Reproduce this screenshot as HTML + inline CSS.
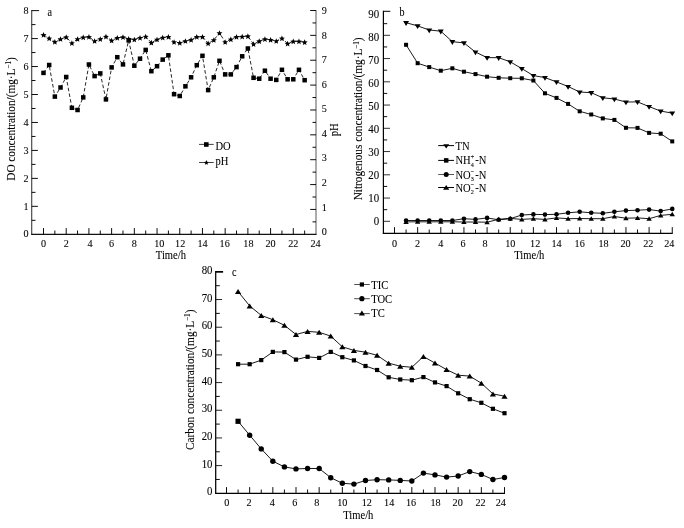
<!DOCTYPE html>
<html><head><meta charset="utf-8"><title>Figure</title>
<style>
html,body{margin:0;padding:0;background:#fff;}
body{width:684px;height:528px;overflow:hidden;font-family:"Liberation Serif",serif;}
#wrap{will-change:transform;width:684px;height:528px;}
svg{display:block;}
svg text{font-family:"Liberation Serif",serif;fill:#000;stroke:#000;stroke-width:0.09px;}
</style></head><body>
<div id="wrap">
<svg width="684" height="528" viewBox="0 0 684 528">
<line x1="31.70" y1="9.90" x2="31.70" y2="234.80" stroke="#444" stroke-width="1.15"/>
<line x1="316.00" y1="10.00" x2="316.00" y2="234.80" stroke="#666" stroke-width="1.1"/>
<line x1="31.20" y1="234.30" x2="316.50" y2="234.30" stroke="#111" stroke-width="1.15"/>
<text transform="translate(28.50,236.60) scale(0.9,1)" font-size="11.3" text-anchor="end">0</text>
<line x1="31.70" y1="220.32" x2="35.50" y2="220.32" stroke="#000" stroke-width="0.95"/>
<line x1="31.70" y1="206.34" x2="37.90" y2="206.34" stroke="#000" stroke-width="0.95"/>
<text transform="translate(28.50,210.14) scale(0.9,1)" font-size="11.3" text-anchor="end">1</text>
<line x1="31.70" y1="192.36" x2="35.50" y2="192.36" stroke="#000" stroke-width="0.95"/>
<line x1="31.70" y1="178.38" x2="37.90" y2="178.38" stroke="#000" stroke-width="0.95"/>
<text transform="translate(28.50,182.18) scale(0.9,1)" font-size="11.3" text-anchor="end">2</text>
<line x1="31.70" y1="164.40" x2="35.50" y2="164.40" stroke="#000" stroke-width="0.95"/>
<line x1="31.70" y1="150.42" x2="37.90" y2="150.42" stroke="#000" stroke-width="0.95"/>
<text transform="translate(28.50,154.22) scale(0.9,1)" font-size="11.3" text-anchor="end">3</text>
<line x1="31.70" y1="136.44" x2="35.50" y2="136.44" stroke="#000" stroke-width="0.95"/>
<line x1="31.70" y1="122.46" x2="37.90" y2="122.46" stroke="#000" stroke-width="0.95"/>
<text transform="translate(28.50,126.26) scale(0.9,1)" font-size="11.3" text-anchor="end">4</text>
<line x1="31.70" y1="108.48" x2="35.50" y2="108.48" stroke="#000" stroke-width="0.95"/>
<line x1="31.70" y1="94.50" x2="37.90" y2="94.50" stroke="#000" stroke-width="0.95"/>
<text transform="translate(28.50,98.30) scale(0.9,1)" font-size="11.3" text-anchor="end">5</text>
<line x1="31.70" y1="80.52" x2="35.50" y2="80.52" stroke="#000" stroke-width="0.95"/>
<line x1="31.70" y1="66.54" x2="37.90" y2="66.54" stroke="#000" stroke-width="0.95"/>
<text transform="translate(28.50,70.34) scale(0.9,1)" font-size="11.3" text-anchor="end">6</text>
<line x1="31.70" y1="52.56" x2="35.50" y2="52.56" stroke="#000" stroke-width="0.95"/>
<line x1="31.70" y1="38.58" x2="37.90" y2="38.58" stroke="#000" stroke-width="0.95"/>
<text transform="translate(28.50,42.38) scale(0.9,1)" font-size="11.3" text-anchor="end">7</text>
<line x1="31.70" y1="24.60" x2="35.50" y2="24.60" stroke="#000" stroke-width="0.95"/>
<line x1="31.70" y1="10.62" x2="39.10" y2="10.62" stroke="#000" stroke-width="0.95"/>
<text transform="translate(28.50,14.42) scale(0.9,1)" font-size="11.3" text-anchor="end">8</text>
<text transform="translate(321.80,235.05) scale(0.9,1)" font-size="11.3" text-anchor="start">0</text>
<line x1="316.00" y1="221.87" x2="312.50" y2="221.87" stroke="#000" stroke-width="0.95"/>
<line x1="316.00" y1="209.43" x2="310.20" y2="209.43" stroke="#000" stroke-width="0.95"/>
<text transform="translate(321.80,210.52) scale(0.9,1)" font-size="11.3" text-anchor="start">1</text>
<line x1="316.00" y1="197.00" x2="312.50" y2="197.00" stroke="#000" stroke-width="0.95"/>
<line x1="316.00" y1="184.57" x2="310.20" y2="184.57" stroke="#000" stroke-width="0.95"/>
<text transform="translate(321.80,185.99) scale(0.9,1)" font-size="11.3" text-anchor="start">2</text>
<line x1="316.00" y1="172.13" x2="312.50" y2="172.13" stroke="#000" stroke-width="0.95"/>
<line x1="316.00" y1="159.70" x2="310.20" y2="159.70" stroke="#000" stroke-width="0.95"/>
<text transform="translate(321.80,161.46) scale(0.9,1)" font-size="11.3" text-anchor="start">3</text>
<line x1="316.00" y1="147.27" x2="312.50" y2="147.27" stroke="#000" stroke-width="0.95"/>
<line x1="316.00" y1="134.83" x2="310.20" y2="134.83" stroke="#000" stroke-width="0.95"/>
<text transform="translate(321.80,136.93) scale(0.9,1)" font-size="11.3" text-anchor="start">4</text>
<line x1="316.00" y1="122.40" x2="312.50" y2="122.40" stroke="#000" stroke-width="0.95"/>
<line x1="316.00" y1="109.97" x2="310.20" y2="109.97" stroke="#000" stroke-width="0.95"/>
<text transform="translate(321.80,112.40) scale(0.9,1)" font-size="11.3" text-anchor="start">5</text>
<line x1="316.00" y1="97.53" x2="312.50" y2="97.53" stroke="#000" stroke-width="0.95"/>
<line x1="316.00" y1="85.10" x2="310.20" y2="85.10" stroke="#000" stroke-width="0.95"/>
<text transform="translate(321.80,87.87) scale(0.9,1)" font-size="11.3" text-anchor="start">6</text>
<line x1="316.00" y1="72.67" x2="312.50" y2="72.67" stroke="#000" stroke-width="0.95"/>
<line x1="316.00" y1="60.23" x2="310.20" y2="60.23" stroke="#000" stroke-width="0.95"/>
<text transform="translate(321.80,63.34) scale(0.9,1)" font-size="11.3" text-anchor="start">7</text>
<line x1="316.00" y1="47.80" x2="312.50" y2="47.80" stroke="#000" stroke-width="0.95"/>
<line x1="316.00" y1="35.37" x2="310.20" y2="35.37" stroke="#000" stroke-width="0.95"/>
<text transform="translate(321.80,38.81) scale(0.9,1)" font-size="11.3" text-anchor="start">8</text>
<line x1="316.00" y1="22.93" x2="312.50" y2="22.93" stroke="#000" stroke-width="0.95"/>
<line x1="316.00" y1="10.50" x2="310.20" y2="10.50" stroke="#000" stroke-width="0.95"/>
<text transform="translate(321.80,14.28) scale(0.9,1)" font-size="11.3" text-anchor="start">9</text>
<line x1="43.50" y1="234.30" x2="43.50" y2="228.10" stroke="#000" stroke-width="0.95"/>
<text transform="translate(43.50,246.90) scale(0.9,1)" font-size="11.3" text-anchor="middle">0</text>
<line x1="54.85" y1="234.30" x2="54.85" y2="230.50" stroke="#000" stroke-width="0.95"/>
<line x1="66.21" y1="234.30" x2="66.21" y2="228.10" stroke="#000" stroke-width="0.95"/>
<text transform="translate(66.21,246.90) scale(0.9,1)" font-size="11.3" text-anchor="middle">2</text>
<line x1="77.56" y1="234.30" x2="77.56" y2="230.50" stroke="#000" stroke-width="0.95"/>
<line x1="88.92" y1="234.30" x2="88.92" y2="228.10" stroke="#000" stroke-width="0.95"/>
<text transform="translate(89.92,246.90) scale(0.9,1)" font-size="11.3" text-anchor="middle">4</text>
<line x1="100.27" y1="234.30" x2="100.27" y2="230.50" stroke="#000" stroke-width="0.95"/>
<line x1="111.62" y1="234.30" x2="111.62" y2="228.10" stroke="#000" stroke-width="0.95"/>
<text transform="translate(111.62,246.90) scale(0.9,1)" font-size="11.3" text-anchor="middle">6</text>
<line x1="122.98" y1="234.30" x2="122.98" y2="230.50" stroke="#000" stroke-width="0.95"/>
<line x1="134.33" y1="234.30" x2="134.33" y2="228.10" stroke="#000" stroke-width="0.95"/>
<text transform="translate(134.33,246.90) scale(0.9,1)" font-size="11.3" text-anchor="middle">8</text>
<line x1="145.69" y1="234.30" x2="145.69" y2="230.50" stroke="#000" stroke-width="0.95"/>
<line x1="157.04" y1="234.30" x2="157.04" y2="228.10" stroke="#000" stroke-width="0.95"/>
<text transform="translate(159.34,246.90) scale(0.9,1)" font-size="11.3" text-anchor="middle">10</text>
<line x1="168.40" y1="234.30" x2="168.40" y2="230.50" stroke="#000" stroke-width="0.95"/>
<line x1="179.75" y1="234.30" x2="179.75" y2="228.10" stroke="#000" stroke-width="0.95"/>
<text transform="translate(180.15,246.90) scale(0.9,1)" font-size="11.3" text-anchor="middle">12</text>
<line x1="191.10" y1="234.30" x2="191.10" y2="230.50" stroke="#000" stroke-width="0.95"/>
<line x1="202.46" y1="234.30" x2="202.46" y2="228.10" stroke="#000" stroke-width="0.95"/>
<text transform="translate(202.46,246.90) scale(0.9,1)" font-size="11.3" text-anchor="middle">14</text>
<line x1="213.81" y1="234.30" x2="213.81" y2="230.50" stroke="#000" stroke-width="0.95"/>
<line x1="225.17" y1="234.30" x2="225.17" y2="228.10" stroke="#000" stroke-width="0.95"/>
<text transform="translate(224.67,246.90) scale(0.9,1)" font-size="11.3" text-anchor="middle">16</text>
<line x1="236.52" y1="234.30" x2="236.52" y2="230.50" stroke="#000" stroke-width="0.95"/>
<line x1="247.88" y1="234.30" x2="247.88" y2="228.10" stroke="#000" stroke-width="0.95"/>
<text transform="translate(248.38,246.90) scale(0.9,1)" font-size="11.3" text-anchor="middle">18</text>
<line x1="259.23" y1="234.30" x2="259.23" y2="230.50" stroke="#000" stroke-width="0.95"/>
<line x1="270.58" y1="234.30" x2="270.58" y2="228.10" stroke="#000" stroke-width="0.95"/>
<text transform="translate(270.58,246.90) scale(0.9,1)" font-size="11.3" text-anchor="middle">20</text>
<line x1="281.94" y1="234.30" x2="281.94" y2="230.50" stroke="#000" stroke-width="0.95"/>
<line x1="293.29" y1="234.30" x2="293.29" y2="228.10" stroke="#000" stroke-width="0.95"/>
<text transform="translate(293.29,246.90) scale(0.9,1)" font-size="11.3" text-anchor="middle">22</text>
<line x1="304.65" y1="234.30" x2="304.65" y2="230.50" stroke="#000" stroke-width="0.95"/>
<text transform="translate(315.50,246.90) scale(0.9,1)" font-size="11.3" text-anchor="middle">24</text>
<text transform="translate(170.90,258.80) scale(0.88,1)" font-size="12" text-anchor="middle">Time/h</text>
<text transform="translate(47.60,16.00) scale(0.88,1)" font-size="11.5" text-anchor="start">a</text>
<text transform="translate(14.80,119.00) rotate(-90) scale(0.94,1)" font-size="12" text-anchor="middle">DO concentration/(mg·L<tspan dy="-3.6" font-size="7.5">−1</tspan><tspan dy="3.6">)</tspan></text>
<text transform="translate(337.80,129.80) rotate(-90) scale(0.88,1)" font-size="12" text-anchor="middle">pH</text>
<polyline points="43.50,34.90 49.18,38.30 54.85,41.90 60.53,39.00 66.21,37.10 71.89,43.10 77.56,39.00 83.24,37.30 88.92,36.90 94.59,41.00 100.27,39.10 105.95,36.60 111.62,40.50 117.30,37.90 122.98,37.10 128.66,38.80 134.33,39.50 140.01,37.80 145.69,36.60 151.36,42.70 157.04,39.50 162.72,37.60 168.40,36.90 174.07,42.00 179.75,42.90 185.43,41.00 191.10,39.80 196.78,36.90 202.46,36.80 208.14,43.40 213.81,40.00 219.49,33.00 225.17,42.00 230.84,39.30 236.52,36.80 242.20,36.60 247.88,36.20 253.55,44.10 259.23,41.20 264.91,39.10 270.58,39.80 276.26,41.00 281.94,38.30 287.61,43.60 293.29,41.40 298.97,41.40 304.65,42.20" fill="none" stroke="#000" stroke-width="0.85" stroke-dasharray="3.4 2.0"/>
<polyline points="43.50,72.90 49.18,65.00 54.85,96.60 60.53,87.50 66.21,77.00 71.89,107.80 77.56,110.00 83.24,97.40 88.92,64.50 94.59,76.10 100.27,73.40 105.95,99.40 111.62,67.40 117.30,57.20 122.98,64.40 128.66,40.40 134.33,65.70 140.01,58.70 145.69,49.90 151.36,71.20 157.04,66.20 162.72,59.60 168.40,55.30 174.07,94.20 179.75,96.00 185.43,86.30 191.10,77.30 196.78,65.20 202.46,55.80 208.14,90.10 213.81,77.30 219.49,60.80 225.17,74.40 230.84,74.40 236.52,67.10 242.20,56.30 247.88,48.50 253.55,77.80 259.23,78.70 264.91,70.70 270.58,78.70 276.26,79.90 281.94,69.80 287.61,79.30 293.29,79.30 298.97,69.80 304.65,80.20" fill="none" stroke="#000" stroke-width="0.85" stroke-dasharray="3.6 2.2"/>
<polygon points="43.50,32.05 44.32,34.07 46.50,34.23 44.83,35.63 45.35,37.75 43.50,36.60 41.65,37.75 42.17,35.63 40.50,34.23 42.68,34.07" fill="#000"/>
<polygon points="49.18,35.45 50.00,37.47 52.17,37.63 50.51,39.03 51.03,41.15 49.18,40.00 47.33,41.15 47.85,39.03 46.18,37.63 48.35,37.47" fill="#000"/>
<polygon points="54.85,39.05 55.68,41.07 57.85,41.23 56.19,42.63 56.71,44.75 54.85,43.60 53.00,44.75 53.52,42.63 51.86,41.23 54.03,41.07" fill="#000"/>
<polygon points="60.53,36.15 61.35,38.17 63.53,38.33 61.86,39.73 62.38,41.85 60.53,40.70 58.68,41.85 59.20,39.73 57.54,38.33 59.71,38.17" fill="#000"/>
<polygon points="66.21,34.25 67.03,36.27 69.20,36.43 67.54,37.83 68.06,39.95 66.21,38.80 64.36,39.95 64.88,37.83 63.21,36.43 65.39,36.27" fill="#000"/>
<polygon points="71.89,40.25 72.71,42.27 74.88,42.43 73.22,43.83 73.74,45.95 71.89,44.80 70.03,45.95 70.55,43.83 68.89,42.43 71.06,42.27" fill="#000"/>
<polygon points="77.56,36.15 78.39,38.17 80.56,38.33 78.89,39.73 79.41,41.85 77.56,40.70 75.71,41.85 76.23,39.73 74.57,38.33 76.74,38.17" fill="#000"/>
<polygon points="83.24,34.45 84.06,36.47 86.24,36.63 84.57,38.03 85.09,40.15 83.24,39.00 81.39,40.15 81.91,38.03 80.24,36.63 82.42,36.47" fill="#000"/>
<polygon points="88.92,34.05 89.74,36.07 91.91,36.23 90.25,37.63 90.77,39.75 88.92,38.60 87.07,39.75 87.59,37.63 85.92,36.23 88.09,36.07" fill="#000"/>
<polygon points="94.59,38.15 95.42,40.17 97.59,40.33 95.93,41.73 96.45,43.85 94.59,42.70 92.74,43.85 93.26,41.73 91.60,40.33 93.77,40.17" fill="#000"/>
<polygon points="100.27,36.25 101.09,38.27 103.27,38.43 101.60,39.83 102.12,41.95 100.27,40.80 98.42,41.95 98.94,39.83 97.28,38.43 99.45,38.27" fill="#000"/>
<polygon points="105.95,33.75 106.77,35.77 108.94,35.93 107.28,37.33 107.80,39.45 105.95,38.30 104.10,39.45 104.62,37.33 102.95,35.93 105.13,35.77" fill="#000"/>
<polygon points="111.62,37.65 112.45,39.67 114.62,39.83 112.96,41.23 113.48,43.35 111.62,42.20 109.77,43.35 110.29,41.23 108.63,39.83 110.80,39.67" fill="#000"/>
<polygon points="117.30,35.05 118.12,37.07 120.30,37.23 118.63,38.63 119.15,40.75 117.30,39.60 115.45,40.75 115.97,38.63 114.31,37.23 116.48,37.07" fill="#000"/>
<polygon points="122.98,34.25 123.80,36.27 125.97,36.43 124.31,37.83 124.83,39.95 122.98,38.80 121.13,39.95 121.65,37.83 119.98,36.43 122.16,36.27" fill="#000"/>
<polygon points="128.66,35.95 129.48,37.97 131.65,38.13 129.99,39.53 130.51,41.65 128.66,40.50 126.80,41.65 127.32,39.53 125.66,38.13 127.83,37.97" fill="#000"/>
<polygon points="134.33,36.65 135.16,38.67 137.33,38.83 135.66,40.23 136.18,42.35 134.33,41.20 132.48,42.35 133.00,40.23 131.34,38.83 133.51,38.67" fill="#000"/>
<polygon points="140.01,34.95 140.83,36.97 143.01,37.13 141.34,38.53 141.86,40.65 140.01,39.50 138.16,40.65 138.68,38.53 137.01,37.13 139.19,36.97" fill="#000"/>
<polygon points="145.69,33.75 146.51,35.77 148.68,35.93 147.02,37.33 147.54,39.45 145.69,38.30 143.84,39.45 144.36,37.33 142.69,35.93 144.86,35.77" fill="#000"/>
<polygon points="151.36,39.85 152.19,41.87 154.36,42.03 152.70,43.43 153.22,45.55 151.36,44.40 149.51,45.55 150.03,43.43 148.37,42.03 150.54,41.87" fill="#000"/>
<polygon points="157.04,36.65 157.86,38.67 160.04,38.83 158.37,40.23 158.89,42.35 157.04,41.20 155.19,42.35 155.71,40.23 154.05,38.83 156.22,38.67" fill="#000"/>
<polygon points="162.72,34.75 163.54,36.77 165.71,36.93 164.05,38.33 164.57,40.45 162.72,39.30 160.87,40.45 161.39,38.33 159.72,36.93 161.90,36.77" fill="#000"/>
<polygon points="168.40,34.05 169.22,36.07 171.39,36.23 169.73,37.63 170.25,39.75 168.40,38.60 166.54,39.75 167.06,37.63 165.40,36.23 167.57,36.07" fill="#000"/>
<polygon points="174.07,39.15 174.90,41.17 177.07,41.33 175.40,42.73 175.92,44.85 174.07,43.70 172.22,44.85 172.74,42.73 171.08,41.33 173.25,41.17" fill="#000"/>
<polygon points="179.75,40.05 180.57,42.07 182.75,42.23 181.08,43.63 181.60,45.75 179.75,44.60 177.90,45.75 178.42,43.63 176.75,42.23 178.93,42.07" fill="#000"/>
<polygon points="185.43,38.15 186.25,40.17 188.42,40.33 186.76,41.73 187.28,43.85 185.43,42.70 183.58,43.85 184.10,41.73 182.43,40.33 184.60,40.17" fill="#000"/>
<polygon points="191.10,36.95 191.93,38.97 194.10,39.13 192.44,40.53 192.96,42.65 191.10,41.50 189.25,42.65 189.77,40.53 188.11,39.13 190.28,38.97" fill="#000"/>
<polygon points="196.78,34.05 197.60,36.07 199.78,36.23 198.11,37.63 198.63,39.75 196.78,38.60 194.93,39.75 195.45,37.63 193.79,36.23 195.96,36.07" fill="#000"/>
<polygon points="202.46,33.95 203.28,35.97 205.45,36.13 203.79,37.53 204.31,39.65 202.46,38.50 200.61,39.65 201.13,37.53 199.46,36.13 201.64,35.97" fill="#000"/>
<polygon points="208.14,40.55 208.96,42.57 211.13,42.73 209.47,44.13 209.99,46.25 208.14,45.10 206.28,46.25 206.80,44.13 205.14,42.73 207.31,42.57" fill="#000"/>
<polygon points="213.81,37.15 214.64,39.17 216.81,39.33 215.14,40.73 215.66,42.85 213.81,41.70 211.96,42.85 212.48,40.73 210.82,39.33 212.99,39.17" fill="#000"/>
<polygon points="219.49,30.15 220.31,32.17 222.49,32.33 220.82,33.73 221.34,35.85 219.49,34.70 217.64,35.85 218.16,33.73 216.49,32.33 218.67,32.17" fill="#000"/>
<polygon points="225.17,39.15 225.99,41.17 228.16,41.33 226.50,42.73 227.02,44.85 225.17,43.70 223.32,44.85 223.84,42.73 222.17,41.33 224.34,41.17" fill="#000"/>
<polygon points="230.84,36.45 231.67,38.47 233.84,38.63 232.18,40.03 232.70,42.15 230.84,41.00 228.99,42.15 229.51,40.03 227.85,38.63 230.02,38.47" fill="#000"/>
<polygon points="236.52,33.95 237.34,35.97 239.52,36.13 237.85,37.53 238.37,39.65 236.52,38.50 234.67,39.65 235.19,37.53 233.53,36.13 235.70,35.97" fill="#000"/>
<polygon points="242.20,33.75 243.02,35.77 245.19,35.93 243.53,37.33 244.05,39.45 242.20,38.30 240.35,39.45 240.87,37.33 239.20,35.93 241.38,35.77" fill="#000"/>
<polygon points="247.88,33.35 248.70,35.37 250.87,35.53 249.21,36.93 249.73,39.05 247.88,37.90 246.02,39.05 246.54,36.93 244.88,35.53 247.05,35.37" fill="#000"/>
<polygon points="253.55,41.25 254.37,43.27 256.55,43.43 254.88,44.83 255.40,46.95 253.55,45.80 251.70,46.95 252.22,44.83 250.56,43.43 252.73,43.27" fill="#000"/>
<polygon points="259.23,38.35 260.05,40.37 262.22,40.53 260.56,41.93 261.08,44.05 259.23,42.90 257.38,44.05 257.90,41.93 256.23,40.53 258.41,40.37" fill="#000"/>
<polygon points="264.91,36.25 265.73,38.27 267.90,38.43 266.24,39.83 266.76,41.95 264.91,40.80 263.05,41.95 263.57,39.83 261.91,38.43 264.08,38.27" fill="#000"/>
<polygon points="270.58,36.95 271.41,38.97 273.58,39.13 271.91,40.53 272.43,42.65 270.58,41.50 268.73,42.65 269.25,40.53 267.59,39.13 269.76,38.97" fill="#000"/>
<polygon points="276.26,38.15 277.08,40.17 279.26,40.33 277.59,41.73 278.11,43.85 276.26,42.70 274.41,43.85 274.93,41.73 273.26,40.33 275.44,40.17" fill="#000"/>
<polygon points="281.94,35.45 282.76,37.47 284.93,37.63 283.27,39.03 283.79,41.15 281.94,40.00 280.09,41.15 280.61,39.03 278.94,37.63 281.11,37.47" fill="#000"/>
<polygon points="287.61,40.75 288.44,42.77 290.61,42.93 288.95,44.33 289.47,46.45 287.61,45.30 285.76,46.45 286.28,44.33 284.62,42.93 286.79,42.77" fill="#000"/>
<polygon points="293.29,38.55 294.11,40.57 296.29,40.73 294.62,42.13 295.14,44.25 293.29,43.10 291.44,44.25 291.96,42.13 290.30,40.73 292.47,40.57" fill="#000"/>
<polygon points="298.97,38.55 299.79,40.57 301.96,40.73 300.30,42.13 300.82,44.25 298.97,43.10 297.12,44.25 297.64,42.13 295.97,40.73 298.15,40.57" fill="#000"/>
<polygon points="304.65,39.35 305.47,41.37 307.64,41.53 305.98,42.93 306.50,45.05 304.65,43.90 302.79,45.05 303.31,42.93 301.65,41.53 303.82,41.37" fill="#000"/>
<rect x="41.25" y="70.65" width="4.5" height="4.5" fill="#000"/>
<rect x="46.93" y="62.75" width="4.5" height="4.5" fill="#000"/>
<rect x="52.60" y="94.35" width="4.5" height="4.5" fill="#000"/>
<rect x="58.28" y="85.25" width="4.5" height="4.5" fill="#000"/>
<rect x="63.96" y="74.75" width="4.5" height="4.5" fill="#000"/>
<rect x="69.64" y="105.55" width="4.5" height="4.5" fill="#000"/>
<rect x="75.31" y="107.75" width="4.5" height="4.5" fill="#000"/>
<rect x="80.99" y="95.15" width="4.5" height="4.5" fill="#000"/>
<rect x="86.67" y="62.25" width="4.5" height="4.5" fill="#000"/>
<rect x="92.34" y="73.85" width="4.5" height="4.5" fill="#000"/>
<rect x="98.02" y="71.15" width="4.5" height="4.5" fill="#000"/>
<rect x="103.70" y="97.15" width="4.5" height="4.5" fill="#000"/>
<rect x="109.38" y="65.15" width="4.5" height="4.5" fill="#000"/>
<rect x="115.05" y="54.95" width="4.5" height="4.5" fill="#000"/>
<rect x="120.73" y="62.15" width="4.5" height="4.5" fill="#000"/>
<rect x="126.41" y="38.15" width="4.5" height="4.5" fill="#000"/>
<rect x="132.08" y="63.45" width="4.5" height="4.5" fill="#000"/>
<rect x="137.76" y="56.45" width="4.5" height="4.5" fill="#000"/>
<rect x="143.44" y="47.65" width="4.5" height="4.5" fill="#000"/>
<rect x="149.11" y="68.95" width="4.5" height="4.5" fill="#000"/>
<rect x="154.79" y="63.95" width="4.5" height="4.5" fill="#000"/>
<rect x="160.47" y="57.35" width="4.5" height="4.5" fill="#000"/>
<rect x="166.15" y="53.05" width="4.5" height="4.5" fill="#000"/>
<rect x="171.82" y="91.95" width="4.5" height="4.5" fill="#000"/>
<rect x="177.50" y="93.75" width="4.5" height="4.5" fill="#000"/>
<rect x="183.18" y="84.05" width="4.5" height="4.5" fill="#000"/>
<rect x="188.85" y="75.05" width="4.5" height="4.5" fill="#000"/>
<rect x="194.53" y="62.95" width="4.5" height="4.5" fill="#000"/>
<rect x="200.21" y="53.55" width="4.5" height="4.5" fill="#000"/>
<rect x="205.89" y="87.85" width="4.5" height="4.5" fill="#000"/>
<rect x="211.56" y="75.05" width="4.5" height="4.5" fill="#000"/>
<rect x="217.24" y="58.55" width="4.5" height="4.5" fill="#000"/>
<rect x="222.92" y="72.15" width="4.5" height="4.5" fill="#000"/>
<rect x="228.59" y="72.15" width="4.5" height="4.5" fill="#000"/>
<rect x="234.27" y="64.85" width="4.5" height="4.5" fill="#000"/>
<rect x="239.95" y="54.05" width="4.5" height="4.5" fill="#000"/>
<rect x="245.62" y="46.25" width="4.5" height="4.5" fill="#000"/>
<rect x="251.30" y="75.55" width="4.5" height="4.5" fill="#000"/>
<rect x="256.98" y="76.45" width="4.5" height="4.5" fill="#000"/>
<rect x="262.66" y="68.45" width="4.5" height="4.5" fill="#000"/>
<rect x="268.33" y="76.45" width="4.5" height="4.5" fill="#000"/>
<rect x="274.01" y="77.65" width="4.5" height="4.5" fill="#000"/>
<rect x="279.69" y="67.55" width="4.5" height="4.5" fill="#000"/>
<rect x="285.36" y="77.05" width="4.5" height="4.5" fill="#000"/>
<rect x="291.04" y="77.05" width="4.5" height="4.5" fill="#000"/>
<rect x="296.72" y="67.55" width="4.5" height="4.5" fill="#000"/>
<rect x="302.40" y="77.95" width="4.5" height="4.5" fill="#000"/>
<line x1="199.00" y1="144.40" x2="213.70" y2="144.40" stroke="#111" stroke-width="0.8"/>
<rect x="204.00" y="142.20" width="4.6" height="4.6" fill="#000"/>
<text transform="translate(215.40,149.60) scale(0.88,1)" font-size="12" text-anchor="start">DO</text>
<line x1="199.00" y1="162.50" x2="213.70" y2="162.50" stroke="#111" stroke-width="0.8"/>
<polygon points="206.40,160.10 207.11,161.73 208.87,161.90 207.54,163.07 207.93,164.80 206.40,163.90 204.87,164.80 205.26,163.07 203.93,161.90 205.69,161.73" fill="#000"/>
<text transform="translate(215.40,164.80) scale(0.88,1)" font-size="12" text-anchor="start">pH</text>
<line x1="383.40" y1="10.80" x2="383.40" y2="233.80" stroke="#000" stroke-width="1.2"/>
<line x1="382.80" y1="233.30" x2="672.70" y2="233.30" stroke="#000" stroke-width="1.2"/>
<line x1="383.40" y1="221.30" x2="390.00" y2="221.30" stroke="#000" stroke-width="0.8"/>
<text transform="translate(379.20,224.80) scale(0.9400000000000001,1)" font-size="11.600000000000001" text-anchor="end">0</text>
<line x1="383.40" y1="209.68" x2="387.20" y2="209.68" stroke="#000" stroke-width="0.95"/>
<line x1="383.40" y1="198.05" x2="390.00" y2="198.05" stroke="#000" stroke-width="0.8"/>
<text transform="translate(379.20,201.80) scale(0.9400000000000001,1)" font-size="11.600000000000001" text-anchor="end">10</text>
<line x1="383.40" y1="186.43" x2="387.20" y2="186.43" stroke="#000" stroke-width="0.95"/>
<line x1="383.40" y1="174.80" x2="390.00" y2="174.80" stroke="#000" stroke-width="0.8"/>
<text transform="translate(379.20,178.80) scale(0.9400000000000001,1)" font-size="11.600000000000001" text-anchor="end">20</text>
<line x1="383.40" y1="163.18" x2="387.20" y2="163.18" stroke="#000" stroke-width="0.95"/>
<line x1="383.40" y1="151.55" x2="390.00" y2="151.55" stroke="#000" stroke-width="0.8"/>
<text transform="translate(379.20,155.80) scale(0.9400000000000001,1)" font-size="11.600000000000001" text-anchor="end">30</text>
<line x1="383.40" y1="139.93" x2="387.20" y2="139.93" stroke="#000" stroke-width="0.95"/>
<line x1="383.40" y1="128.30" x2="390.00" y2="128.30" stroke="#000" stroke-width="0.8"/>
<text transform="translate(379.20,132.80) scale(0.9400000000000001,1)" font-size="11.600000000000001" text-anchor="end">40</text>
<line x1="383.40" y1="116.67" x2="387.20" y2="116.67" stroke="#000" stroke-width="0.95"/>
<line x1="383.40" y1="105.05" x2="390.00" y2="105.05" stroke="#000" stroke-width="0.8"/>
<text transform="translate(379.20,109.80) scale(0.9400000000000001,1)" font-size="11.600000000000001" text-anchor="end">50</text>
<line x1="383.40" y1="93.42" x2="387.20" y2="93.42" stroke="#000" stroke-width="0.95"/>
<line x1="383.40" y1="81.80" x2="390.00" y2="81.80" stroke="#000" stroke-width="0.8"/>
<text transform="translate(379.20,86.80) scale(0.9400000000000001,1)" font-size="11.600000000000001" text-anchor="end">60</text>
<line x1="383.40" y1="70.18" x2="387.20" y2="70.18" stroke="#000" stroke-width="0.95"/>
<line x1="383.40" y1="58.55" x2="390.00" y2="58.55" stroke="#000" stroke-width="0.8"/>
<text transform="translate(379.20,63.80) scale(0.9400000000000001,1)" font-size="11.600000000000001" text-anchor="end">70</text>
<line x1="383.40" y1="46.93" x2="387.20" y2="46.93" stroke="#000" stroke-width="0.95"/>
<line x1="383.40" y1="35.30" x2="390.00" y2="35.30" stroke="#000" stroke-width="0.8"/>
<text transform="translate(379.20,40.80) scale(0.9400000000000001,1)" font-size="11.600000000000001" text-anchor="end">80</text>
<line x1="383.40" y1="23.67" x2="387.20" y2="23.67" stroke="#000" stroke-width="0.95"/>
<line x1="383.40" y1="11.30" x2="390.30" y2="11.30" stroke="#000" stroke-width="1.0"/>
<text transform="translate(379.20,17.80) scale(0.9400000000000001,1)" font-size="11.600000000000001" text-anchor="end">90</text>
<line x1="394.50" y1="233.30" x2="394.50" y2="227.10" stroke="#000" stroke-width="0.95"/>
<text transform="translate(394.50,246.50) scale(0.9,1)" font-size="11.3" text-anchor="middle">0</text>
<line x1="406.07" y1="233.30" x2="406.07" y2="229.50" stroke="#000" stroke-width="0.95"/>
<line x1="417.65" y1="233.30" x2="417.65" y2="227.10" stroke="#000" stroke-width="0.95"/>
<text transform="translate(417.65,246.50) scale(0.9,1)" font-size="11.3" text-anchor="middle">2</text>
<line x1="429.22" y1="233.30" x2="429.22" y2="229.50" stroke="#000" stroke-width="0.95"/>
<line x1="440.79" y1="233.30" x2="440.79" y2="227.10" stroke="#000" stroke-width="0.95"/>
<text transform="translate(440.79,246.50) scale(0.9,1)" font-size="11.3" text-anchor="middle">4</text>
<line x1="452.36" y1="233.30" x2="452.36" y2="229.50" stroke="#000" stroke-width="0.95"/>
<line x1="463.94" y1="233.30" x2="463.94" y2="227.10" stroke="#000" stroke-width="0.95"/>
<text transform="translate(463.04,246.50) scale(0.9,1)" font-size="11.3" text-anchor="middle">6</text>
<line x1="475.51" y1="233.30" x2="475.51" y2="229.50" stroke="#000" stroke-width="0.95"/>
<line x1="487.08" y1="233.30" x2="487.08" y2="227.10" stroke="#000" stroke-width="0.95"/>
<text transform="translate(485.08,246.50) scale(0.9,1)" font-size="11.3" text-anchor="middle">8</text>
<line x1="498.66" y1="233.30" x2="498.66" y2="229.50" stroke="#000" stroke-width="0.95"/>
<line x1="510.23" y1="233.30" x2="510.23" y2="227.10" stroke="#000" stroke-width="0.95"/>
<text transform="translate(510.23,246.50) scale(0.9,1)" font-size="11.3" text-anchor="middle">10</text>
<line x1="521.80" y1="233.30" x2="521.80" y2="229.50" stroke="#000" stroke-width="0.95"/>
<line x1="533.38" y1="233.30" x2="533.38" y2="227.10" stroke="#000" stroke-width="0.95"/>
<text transform="translate(535.12,246.50) scale(0.9,1)" font-size="11.3" text-anchor="middle">12</text>
<line x1="544.95" y1="233.30" x2="544.95" y2="229.50" stroke="#000" stroke-width="0.95"/>
<line x1="556.52" y1="233.30" x2="556.52" y2="227.10" stroke="#000" stroke-width="0.95"/>
<text transform="translate(556.52,246.50) scale(0.9,1)" font-size="11.3" text-anchor="middle">14</text>
<line x1="568.09" y1="233.30" x2="568.09" y2="229.50" stroke="#000" stroke-width="0.95"/>
<line x1="579.67" y1="233.30" x2="579.67" y2="227.10" stroke="#000" stroke-width="0.95"/>
<text transform="translate(579.67,246.50) scale(0.9,1)" font-size="11.3" text-anchor="middle">16</text>
<line x1="591.24" y1="233.30" x2="591.24" y2="229.50" stroke="#000" stroke-width="0.95"/>
<line x1="602.81" y1="233.30" x2="602.81" y2="227.10" stroke="#000" stroke-width="0.95"/>
<text transform="translate(603.56,246.50) scale(0.9,1)" font-size="11.3" text-anchor="middle">18</text>
<line x1="614.39" y1="233.30" x2="614.39" y2="229.50" stroke="#000" stroke-width="0.95"/>
<line x1="625.96" y1="233.30" x2="625.96" y2="227.10" stroke="#000" stroke-width="0.95"/>
<text transform="translate(625.46,246.50) scale(0.9,1)" font-size="11.3" text-anchor="middle">20</text>
<line x1="637.53" y1="233.30" x2="637.53" y2="229.50" stroke="#000" stroke-width="0.95"/>
<line x1="649.10" y1="233.30" x2="649.10" y2="227.10" stroke="#000" stroke-width="0.95"/>
<text transform="translate(648.35,246.50) scale(0.9,1)" font-size="11.3" text-anchor="middle">22</text>
<line x1="660.68" y1="233.30" x2="660.68" y2="229.50" stroke="#000" stroke-width="0.95"/>
<line x1="672.25" y1="233.30" x2="672.25" y2="227.10" stroke="#000" stroke-width="0.95"/>
<text transform="translate(669.25,246.50) scale(0.9,1)" font-size="11.3" text-anchor="middle">24</text>
<text transform="translate(529.30,259.00) scale(0.88,1)" font-size="12" text-anchor="middle">Time/h</text>
<text transform="translate(399.40,15.80) scale(0.88,1)" font-size="11.5" text-anchor="start">b</text>
<text transform="translate(362.20,118.90) rotate(-90) scale(0.94,1)" font-size="12" text-anchor="middle">Nitrogenous concentration/(mg·L<tspan dy="-3.6" font-size="7.5">−1</tspan><tspan dy="3.6">)</tspan></text>
<polyline points="406.07,22.70 417.65,25.90 429.22,30.00 440.79,31.20 452.36,41.70 463.94,42.90 475.51,52.10 487.08,57.60 498.66,57.70 510.23,61.80 521.80,68.60 533.38,75.60 544.95,77.60 556.52,81.90 568.09,86.50 579.67,92.00 591.24,92.70 602.81,97.80 614.39,99.00 625.96,102.00 637.53,101.90 649.10,106.60 660.68,111.10 672.25,113.10" fill="none" stroke="#000" stroke-width="0.9"/>
<polyline points="406.07,44.80 417.65,63.20 429.22,67.10 440.79,70.70 452.36,68.30 463.94,71.70 475.51,74.10 487.08,76.70 498.66,77.80 510.23,78.20 521.80,78.30 533.38,80.50 544.95,93.30 556.52,97.90 568.09,103.90 579.67,111.30 591.24,114.50 602.81,118.40 614.39,119.90 625.96,127.80 637.53,127.90 649.10,132.90 660.68,133.70 672.25,141.40" fill="none" stroke="#000" stroke-width="0.9"/>
<polyline points="406.07,220.50 417.65,220.50 429.22,220.50 440.79,220.50 452.36,220.50 463.94,218.70 475.51,219.40 487.08,217.90 498.66,219.80 510.23,218.70 521.80,215.00 533.38,214.40 544.95,214.60 556.52,214.30 568.09,212.80 579.67,211.80 591.24,212.80 602.81,213.30 614.39,211.80 625.96,210.60 637.53,210.20 649.10,209.60 660.68,211.10 672.25,208.90" fill="none" stroke="#000" stroke-width="0.9"/>
<polyline points="406.07,221.90 417.65,221.80 429.22,221.80 440.79,221.80 452.36,221.80 463.94,222.00 475.51,222.00 487.08,222.20 498.66,219.30 510.23,218.40 521.80,219.40 533.38,218.70 544.95,219.40 556.52,217.90 568.09,218.70 579.67,218.50 591.24,218.70 602.81,218.70 614.39,216.50 625.96,218.20 637.53,217.90 649.10,218.70 660.68,215.40 672.25,214.30" fill="none" stroke="#000" stroke-width="0.9"/>
<polygon points="403.12,21.10 409.02,21.10 406.07,25.90" fill="#000"/>
<polygon points="414.70,24.30 420.60,24.30 417.65,29.10" fill="#000"/>
<polygon points="426.27,28.40 432.17,28.40 429.22,33.20" fill="#000"/>
<polygon points="437.84,29.60 443.74,29.60 440.79,34.40" fill="#000"/>
<polygon points="449.41,40.10 455.31,40.10 452.36,44.90" fill="#000"/>
<polygon points="460.99,41.30 466.89,41.30 463.94,46.10" fill="#000"/>
<polygon points="472.56,50.50 478.46,50.50 475.51,55.30" fill="#000"/>
<polygon points="484.13,56.00 490.03,56.00 487.08,60.80" fill="#000"/>
<polygon points="495.71,56.10 501.61,56.10 498.66,60.90" fill="#000"/>
<polygon points="507.28,60.20 513.18,60.20 510.23,65.00" fill="#000"/>
<polygon points="518.85,67.00 524.75,67.00 521.80,71.80" fill="#000"/>
<polygon points="530.42,74.00 536.33,74.00 533.38,78.80" fill="#000"/>
<polygon points="542.00,76.00 547.90,76.00 544.95,80.80" fill="#000"/>
<polygon points="553.57,80.30 559.47,80.30 556.52,85.10" fill="#000"/>
<polygon points="565.14,84.90 571.04,84.90 568.09,89.70" fill="#000"/>
<polygon points="576.72,90.40 582.62,90.40 579.67,95.20" fill="#000"/>
<polygon points="588.29,91.10 594.19,91.10 591.24,95.90" fill="#000"/>
<polygon points="599.86,96.20 605.76,96.20 602.81,101.00" fill="#000"/>
<polygon points="611.44,97.40 617.34,97.40 614.39,102.20" fill="#000"/>
<polygon points="623.01,100.40 628.91,100.40 625.96,105.20" fill="#000"/>
<polygon points="634.58,100.30 640.48,100.30 637.53,105.10" fill="#000"/>
<polygon points="646.15,105.00 652.05,105.00 649.10,109.80" fill="#000"/>
<polygon points="657.73,109.50 663.63,109.50 660.68,114.30" fill="#000"/>
<polygon points="669.30,111.50 675.20,111.50 672.25,116.30" fill="#000"/>
<rect x="404.07" y="42.80" width="4.0" height="4.0" fill="#000"/>
<rect x="415.65" y="61.20" width="4.0" height="4.0" fill="#000"/>
<rect x="427.22" y="65.10" width="4.0" height="4.0" fill="#000"/>
<rect x="438.79" y="68.70" width="4.0" height="4.0" fill="#000"/>
<rect x="450.36" y="66.30" width="4.0" height="4.0" fill="#000"/>
<rect x="461.94" y="69.70" width="4.0" height="4.0" fill="#000"/>
<rect x="473.51" y="72.10" width="4.0" height="4.0" fill="#000"/>
<rect x="485.08" y="74.70" width="4.0" height="4.0" fill="#000"/>
<rect x="496.66" y="75.80" width="4.0" height="4.0" fill="#000"/>
<rect x="508.23" y="76.20" width="4.0" height="4.0" fill="#000"/>
<rect x="519.80" y="76.30" width="4.0" height="4.0" fill="#000"/>
<rect x="531.38" y="78.50" width="4.0" height="4.0" fill="#000"/>
<rect x="542.95" y="91.30" width="4.0" height="4.0" fill="#000"/>
<rect x="554.52" y="95.90" width="4.0" height="4.0" fill="#000"/>
<rect x="566.09" y="101.90" width="4.0" height="4.0" fill="#000"/>
<rect x="577.67" y="109.30" width="4.0" height="4.0" fill="#000"/>
<rect x="589.24" y="112.50" width="4.0" height="4.0" fill="#000"/>
<rect x="600.81" y="116.40" width="4.0" height="4.0" fill="#000"/>
<rect x="612.39" y="117.90" width="4.0" height="4.0" fill="#000"/>
<rect x="623.96" y="125.80" width="4.0" height="4.0" fill="#000"/>
<rect x="635.53" y="125.90" width="4.0" height="4.0" fill="#000"/>
<rect x="647.10" y="130.90" width="4.0" height="4.0" fill="#000"/>
<rect x="658.68" y="131.70" width="4.0" height="4.0" fill="#000"/>
<rect x="670.25" y="139.40" width="4.0" height="4.0" fill="#000"/>
<circle cx="406.07" cy="220.50" r="2.3" fill="#000"/>
<circle cx="417.65" cy="220.50" r="2.3" fill="#000"/>
<circle cx="429.22" cy="220.50" r="2.3" fill="#000"/>
<circle cx="440.79" cy="220.50" r="2.3" fill="#000"/>
<circle cx="452.36" cy="220.50" r="2.3" fill="#000"/>
<circle cx="463.94" cy="218.70" r="2.3" fill="#000"/>
<circle cx="475.51" cy="219.40" r="2.3" fill="#000"/>
<circle cx="487.08" cy="217.90" r="2.3" fill="#000"/>
<circle cx="498.66" cy="219.80" r="2.3" fill="#000"/>
<circle cx="510.23" cy="218.70" r="2.3" fill="#000"/>
<circle cx="521.80" cy="215.00" r="2.3" fill="#000"/>
<circle cx="533.38" cy="214.40" r="2.3" fill="#000"/>
<circle cx="544.95" cy="214.60" r="2.3" fill="#000"/>
<circle cx="556.52" cy="214.30" r="2.3" fill="#000"/>
<circle cx="568.09" cy="212.80" r="2.3" fill="#000"/>
<circle cx="579.67" cy="211.80" r="2.3" fill="#000"/>
<circle cx="591.24" cy="212.80" r="2.3" fill="#000"/>
<circle cx="602.81" cy="213.30" r="2.3" fill="#000"/>
<circle cx="614.39" cy="211.80" r="2.3" fill="#000"/>
<circle cx="625.96" cy="210.60" r="2.3" fill="#000"/>
<circle cx="637.53" cy="210.20" r="2.3" fill="#000"/>
<circle cx="649.10" cy="209.60" r="2.3" fill="#000"/>
<circle cx="660.68" cy="211.10" r="2.3" fill="#000"/>
<circle cx="672.25" cy="208.90" r="2.3" fill="#000"/>
<polygon points="403.37,223.93 408.77,223.93 406.07,219.43" fill="#000"/>
<polygon points="414.95,223.83 420.35,223.83 417.65,219.33" fill="#000"/>
<polygon points="426.52,223.83 431.92,223.83 429.22,219.33" fill="#000"/>
<polygon points="438.09,223.83 443.49,223.83 440.79,219.33" fill="#000"/>
<polygon points="449.66,223.83 455.06,223.83 452.36,219.33" fill="#000"/>
<polygon points="461.24,224.03 466.64,224.03 463.94,219.53" fill="#000"/>
<polygon points="472.81,224.03 478.21,224.03 475.51,219.53" fill="#000"/>
<polygon points="484.38,224.22 489.78,224.22 487.08,219.72" fill="#000"/>
<polygon points="495.96,221.33 501.36,221.33 498.66,216.83" fill="#000"/>
<polygon points="507.53,220.43 512.93,220.43 510.23,215.93" fill="#000"/>
<polygon points="519.10,221.43 524.50,221.43 521.80,216.93" fill="#000"/>
<polygon points="530.67,220.72 536.08,220.72 533.38,216.22" fill="#000"/>
<polygon points="542.25,221.43 547.65,221.43 544.95,216.93" fill="#000"/>
<polygon points="553.82,219.93 559.22,219.93 556.52,215.43" fill="#000"/>
<polygon points="565.39,220.72 570.79,220.72 568.09,216.22" fill="#000"/>
<polygon points="576.97,220.53 582.37,220.53 579.67,216.03" fill="#000"/>
<polygon points="588.54,220.72 593.94,220.72 591.24,216.22" fill="#000"/>
<polygon points="600.11,220.72 605.51,220.72 602.81,216.22" fill="#000"/>
<polygon points="611.69,218.53 617.09,218.53 614.39,214.03" fill="#000"/>
<polygon points="623.26,220.22 628.66,220.22 625.96,215.72" fill="#000"/>
<polygon points="634.83,219.93 640.23,219.93 637.53,215.43" fill="#000"/>
<polygon points="646.40,220.72 651.80,220.72 649.10,216.22" fill="#000"/>
<polygon points="657.98,217.43 663.38,217.43 660.68,212.93" fill="#000"/>
<polygon points="669.55,216.33 674.95,216.33 672.25,211.83" fill="#000"/>
<line x1="438.20" y1="145.60" x2="454.00" y2="145.60" stroke="#000" stroke-width="1.0"/>
<polygon points="443.20,144.13 449.20,144.13 446.20,148.53" fill="#000"/>
<text transform="translate(455.50,149.60) scale(0.88,1)" font-size="12" text-anchor="start">TN</text>
<line x1="438.20" y1="160.40" x2="454.00" y2="160.40" stroke="#000" stroke-width="1.0"/>
<rect x="443.95" y="158.15" width="4.5" height="4.5" fill="#000"/>
<text transform="translate(455.5,164.2) scale(0.88,1)" font-size="12" text-anchor="start">NH<tspan dy="2.4" font-size="7">4</tspan><tspan dy="-7.4" dx="-3.4" font-size="7">+</tspan><tspan dy="5.0" dx="1.1">-N</tspan></text>
<line x1="438.20" y1="174.50" x2="454.00" y2="174.50" stroke="#444" stroke-width="0.9"/>
<circle cx="446.20" cy="174.60" r="2.5" fill="#000"/>
<text transform="translate(455.5,178.6) scale(0.88,1)" font-size="12" text-anchor="start">NO<tspan dy="2.4" font-size="7">3</tspan><tspan dy="-7.4" dx="-3.4" font-size="7">−</tspan><tspan dy="5.0" dx="1.1">-N</tspan></text>
<line x1="438.20" y1="187.50" x2="454.00" y2="187.50" stroke="#000" stroke-width="1.0"/>
<polygon points="443.10,189.76 449.30,189.76 446.20,184.96" fill="#000"/>
<text transform="translate(455.5,191.6) scale(0.88,1)" font-size="12" text-anchor="start">NO<tspan dy="2.4" font-size="7">2</tspan><tspan dy="-7.4" dx="-3.4" font-size="7">−</tspan><tspan dy="5.0" dx="1.1">-N</tspan></text>
<line x1="215.70" y1="271.00" x2="215.70" y2="493.80" stroke="#000" stroke-width="1.25"/>
<line x1="215.10" y1="493.30" x2="505.00" y2="493.30" stroke="#000" stroke-width="1.25"/>
<text transform="translate(212.40,495.40) scale(0.93,1)" font-size="11.600000000000001" text-anchor="end">0</text>
<line x1="215.70" y1="479.46" x2="219.80" y2="479.46" stroke="#000" stroke-width="0.95"/>
<line x1="215.70" y1="465.62" x2="222.10" y2="465.62" stroke="#000" stroke-width="0.85"/>
<text transform="translate(212.40,467.72) scale(0.93,1)" font-size="11.600000000000001" text-anchor="end">10</text>
<line x1="215.70" y1="451.78" x2="219.80" y2="451.78" stroke="#000" stroke-width="0.95"/>
<line x1="215.70" y1="437.94" x2="222.10" y2="437.94" stroke="#000" stroke-width="0.85"/>
<text transform="translate(212.40,440.04) scale(0.93,1)" font-size="11.600000000000001" text-anchor="end">20</text>
<line x1="215.70" y1="424.10" x2="219.80" y2="424.10" stroke="#000" stroke-width="0.95"/>
<line x1="215.70" y1="410.26" x2="222.10" y2="410.26" stroke="#000" stroke-width="0.85"/>
<text transform="translate(212.40,412.36) scale(0.93,1)" font-size="11.600000000000001" text-anchor="end">30</text>
<line x1="215.70" y1="396.42" x2="219.80" y2="396.42" stroke="#000" stroke-width="0.95"/>
<line x1="215.70" y1="382.58" x2="222.10" y2="382.58" stroke="#000" stroke-width="0.85"/>
<text transform="translate(212.40,384.68) scale(0.93,1)" font-size="11.600000000000001" text-anchor="end">40</text>
<line x1="215.70" y1="368.74" x2="219.80" y2="368.74" stroke="#000" stroke-width="0.95"/>
<line x1="215.70" y1="354.90" x2="222.10" y2="354.90" stroke="#000" stroke-width="0.85"/>
<text transform="translate(212.40,357.00) scale(0.93,1)" font-size="11.600000000000001" text-anchor="end">50</text>
<line x1="215.70" y1="341.06" x2="219.80" y2="341.06" stroke="#000" stroke-width="0.95"/>
<line x1="215.70" y1="327.22" x2="222.10" y2="327.22" stroke="#000" stroke-width="0.85"/>
<text transform="translate(212.40,329.32) scale(0.93,1)" font-size="11.600000000000001" text-anchor="end">60</text>
<line x1="215.70" y1="313.38" x2="219.80" y2="313.38" stroke="#000" stroke-width="0.95"/>
<line x1="215.70" y1="299.54" x2="222.10" y2="299.54" stroke="#000" stroke-width="0.85"/>
<text transform="translate(212.40,301.64) scale(0.93,1)" font-size="11.600000000000001" text-anchor="end">70</text>
<line x1="215.70" y1="285.70" x2="219.80" y2="285.70" stroke="#000" stroke-width="0.95"/>
<line x1="215.70" y1="271.86" x2="223.10" y2="271.86" stroke="#000" stroke-width="1.7"/>
<text transform="translate(212.40,273.96) scale(0.93,1)" font-size="11.600000000000001" text-anchor="end">80</text>
<line x1="226.50" y1="493.30" x2="226.50" y2="487.10" stroke="#000" stroke-width="0.95"/>
<text transform="translate(226.90,505.70) scale(0.9,1)" font-size="11.3" text-anchor="middle">0</text>
<line x1="238.08" y1="493.30" x2="238.08" y2="489.50" stroke="#000" stroke-width="0.95"/>
<line x1="249.67" y1="493.30" x2="249.67" y2="487.10" stroke="#000" stroke-width="0.95"/>
<text transform="translate(248.92,505.70) scale(0.9,1)" font-size="11.3" text-anchor="middle">2</text>
<line x1="261.25" y1="493.30" x2="261.25" y2="489.50" stroke="#000" stroke-width="0.95"/>
<line x1="272.83" y1="493.30" x2="272.83" y2="487.10" stroke="#000" stroke-width="0.95"/>
<text transform="translate(272.33,505.70) scale(0.9,1)" font-size="11.3" text-anchor="middle">4</text>
<line x1="284.42" y1="493.30" x2="284.42" y2="489.50" stroke="#000" stroke-width="0.95"/>
<line x1="296.00" y1="493.30" x2="296.00" y2="487.10" stroke="#000" stroke-width="0.95"/>
<text transform="translate(294.75,505.70) scale(0.9,1)" font-size="11.3" text-anchor="middle">6</text>
<line x1="307.58" y1="493.30" x2="307.58" y2="489.50" stroke="#000" stroke-width="0.95"/>
<line x1="319.17" y1="493.30" x2="319.17" y2="487.10" stroke="#000" stroke-width="0.95"/>
<text transform="translate(316.77,505.70) scale(0.9,1)" font-size="11.3" text-anchor="middle">8</text>
<line x1="330.75" y1="493.30" x2="330.75" y2="489.50" stroke="#000" stroke-width="0.95"/>
<line x1="342.33" y1="493.30" x2="342.33" y2="487.10" stroke="#000" stroke-width="0.95"/>
<text transform="translate(342.33,505.70) scale(0.9,1)" font-size="11.3" text-anchor="middle">10</text>
<line x1="353.92" y1="493.30" x2="353.92" y2="489.50" stroke="#000" stroke-width="0.95"/>
<line x1="365.50" y1="493.30" x2="365.50" y2="487.10" stroke="#000" stroke-width="0.95"/>
<text transform="translate(366.75,505.70) scale(0.9,1)" font-size="11.3" text-anchor="middle">12</text>
<line x1="377.08" y1="493.30" x2="377.08" y2="489.50" stroke="#000" stroke-width="0.95"/>
<line x1="388.67" y1="493.30" x2="388.67" y2="487.10" stroke="#000" stroke-width="0.95"/>
<text transform="translate(389.17,505.70) scale(0.9,1)" font-size="11.3" text-anchor="middle">14</text>
<line x1="400.25" y1="493.30" x2="400.25" y2="489.50" stroke="#000" stroke-width="0.95"/>
<line x1="411.83" y1="493.30" x2="411.83" y2="487.10" stroke="#000" stroke-width="0.95"/>
<text transform="translate(411.08,505.70) scale(0.9,1)" font-size="11.3" text-anchor="middle">16</text>
<line x1="423.42" y1="493.30" x2="423.42" y2="489.50" stroke="#000" stroke-width="0.95"/>
<line x1="435.00" y1="493.30" x2="435.00" y2="487.10" stroke="#000" stroke-width="0.95"/>
<text transform="translate(435.60,505.70) scale(0.9,1)" font-size="11.3" text-anchor="middle">18</text>
<line x1="446.58" y1="493.30" x2="446.58" y2="489.50" stroke="#000" stroke-width="0.95"/>
<line x1="458.17" y1="493.30" x2="458.17" y2="487.10" stroke="#000" stroke-width="0.95"/>
<text transform="translate(457.67,505.70) scale(0.9,1)" font-size="11.3" text-anchor="middle">20</text>
<line x1="469.75" y1="493.30" x2="469.75" y2="489.50" stroke="#000" stroke-width="0.95"/>
<line x1="481.33" y1="493.30" x2="481.33" y2="487.10" stroke="#000" stroke-width="0.95"/>
<text transform="translate(480.58,505.70) scale(0.9,1)" font-size="11.3" text-anchor="middle">22</text>
<line x1="492.92" y1="493.30" x2="492.92" y2="489.50" stroke="#000" stroke-width="0.95"/>
<line x1="504.50" y1="493.30" x2="504.50" y2="487.10" stroke="#000" stroke-width="0.95"/>
<text transform="translate(500.75,505.70) scale(0.9,1)" font-size="11.3" text-anchor="middle">24</text>
<text transform="translate(358.30,518.50) scale(0.88,1)" font-size="12" text-anchor="middle">Time/h</text>
<text transform="translate(232.00,275.90) scale(0.88,1)" font-size="11.5" text-anchor="start">c</text>
<text transform="translate(193.60,379.80) rotate(-90) scale(0.94,1)" font-size="12" text-anchor="middle">Carbon concentration/(mg·L<tspan dy="-3.6" font-size="7.5">−1</tspan><tspan dy="3.6">)</tspan></text>
<polyline points="238.08,291.60 249.67,305.90 261.25,315.40 272.83,319.70 284.42,325.30 296.00,334.50 307.58,331.40 319.17,332.30 330.75,336.10 342.33,346.80 353.92,350.40 365.50,352.20 377.08,355.30 388.67,363.20 400.25,366.20 411.83,367.30 423.42,356.50 435.00,363.10 446.58,369.60 458.17,375.20 469.75,376.10 481.33,383.20 492.92,393.90 504.50,396.20" fill="none" stroke="#000" stroke-width="0.9"/>
<polyline points="238.08,364.20 249.67,364.20 261.25,360.10 272.83,351.90 284.42,352.10 296.00,359.60 307.58,356.80 319.17,357.90 330.75,351.90 342.33,357.20 353.92,360.40 365.50,366.00 377.08,370.00 388.67,377.30 400.25,379.50 411.83,380.20 423.42,377.10 435.00,382.40 446.58,386.10 458.17,393.30 469.75,399.20 481.33,402.80 492.92,408.80 504.50,413.20" fill="none" stroke="#000" stroke-width="0.9"/>
<polyline points="238.08,421.30 249.67,435.20 261.25,448.90 272.83,461.20 284.42,466.90 296.00,468.90 307.58,468.50 319.17,468.50 330.75,477.70 342.33,483.30 353.92,484.10 365.50,480.50 377.08,479.70 388.67,479.90 400.25,480.40 411.83,481.00 423.42,473.10 435.00,474.90 446.58,477.10 458.17,476.00 469.75,471.60 481.33,474.40 492.92,479.50 504.50,477.50" fill="none" stroke="#000" stroke-width="0.9"/>
<polygon points="234.98,294.10 241.18,294.10 238.08,289.10" fill="#000"/>
<polygon points="246.57,308.40 252.77,308.40 249.67,303.40" fill="#000"/>
<polygon points="258.15,317.90 264.35,317.90 261.25,312.90" fill="#000"/>
<polygon points="269.73,322.20 275.93,322.20 272.83,317.20" fill="#000"/>
<polygon points="281.32,327.80 287.52,327.80 284.42,322.80" fill="#000"/>
<polygon points="292.90,337.00 299.10,337.00 296.00,332.00" fill="#000"/>
<polygon points="304.48,333.90 310.68,333.90 307.58,328.90" fill="#000"/>
<polygon points="316.07,334.80 322.27,334.80 319.17,329.80" fill="#000"/>
<polygon points="327.65,338.60 333.85,338.60 330.75,333.60" fill="#000"/>
<polygon points="339.23,349.30 345.43,349.30 342.33,344.30" fill="#000"/>
<polygon points="350.82,352.90 357.02,352.90 353.92,347.90" fill="#000"/>
<polygon points="362.40,354.70 368.60,354.70 365.50,349.70" fill="#000"/>
<polygon points="373.98,357.80 380.18,357.80 377.08,352.80" fill="#000"/>
<polygon points="385.57,365.70 391.77,365.70 388.67,360.70" fill="#000"/>
<polygon points="397.15,368.70 403.35,368.70 400.25,363.70" fill="#000"/>
<polygon points="408.73,369.80 414.93,369.80 411.83,364.80" fill="#000"/>
<polygon points="420.32,359.00 426.52,359.00 423.42,354.00" fill="#000"/>
<polygon points="431.90,365.60 438.10,365.60 435.00,360.60" fill="#000"/>
<polygon points="443.48,372.10 449.68,372.10 446.58,367.10" fill="#000"/>
<polygon points="455.07,377.70 461.27,377.70 458.17,372.70" fill="#000"/>
<polygon points="466.65,378.60 472.85,378.60 469.75,373.60" fill="#000"/>
<polygon points="478.23,385.70 484.43,385.70 481.33,380.70" fill="#000"/>
<polygon points="489.82,396.40 496.02,396.40 492.92,391.40" fill="#000"/>
<polygon points="501.40,398.70 507.60,398.70 504.50,393.70" fill="#000"/>
<rect x="235.98" y="362.10" width="4.2" height="4.2" fill="#000"/>
<rect x="247.57" y="362.10" width="4.2" height="4.2" fill="#000"/>
<rect x="259.15" y="358.00" width="4.2" height="4.2" fill="#000"/>
<rect x="270.73" y="349.80" width="4.2" height="4.2" fill="#000"/>
<rect x="282.32" y="350.00" width="4.2" height="4.2" fill="#000"/>
<rect x="293.90" y="357.50" width="4.2" height="4.2" fill="#000"/>
<rect x="305.48" y="354.70" width="4.2" height="4.2" fill="#000"/>
<rect x="317.07" y="355.80" width="4.2" height="4.2" fill="#000"/>
<rect x="328.65" y="349.80" width="4.2" height="4.2" fill="#000"/>
<rect x="340.23" y="355.10" width="4.2" height="4.2" fill="#000"/>
<rect x="351.82" y="358.30" width="4.2" height="4.2" fill="#000"/>
<rect x="363.40" y="363.90" width="4.2" height="4.2" fill="#000"/>
<rect x="374.98" y="367.90" width="4.2" height="4.2" fill="#000"/>
<rect x="386.57" y="375.20" width="4.2" height="4.2" fill="#000"/>
<rect x="398.15" y="377.40" width="4.2" height="4.2" fill="#000"/>
<rect x="409.73" y="378.10" width="4.2" height="4.2" fill="#000"/>
<rect x="421.32" y="375.00" width="4.2" height="4.2" fill="#000"/>
<rect x="432.90" y="380.30" width="4.2" height="4.2" fill="#000"/>
<rect x="444.48" y="384.00" width="4.2" height="4.2" fill="#000"/>
<rect x="456.07" y="391.20" width="4.2" height="4.2" fill="#000"/>
<rect x="467.65" y="397.10" width="4.2" height="4.2" fill="#000"/>
<rect x="479.23" y="400.70" width="4.2" height="4.2" fill="#000"/>
<rect x="490.82" y="406.70" width="4.2" height="4.2" fill="#000"/>
<rect x="502.40" y="411.10" width="4.2" height="4.2" fill="#000"/>
<rect x="235.48" y="418.70" width="5.2" height="5.2" fill="#000"/>
<circle cx="249.67" cy="435.20" r="2.7" fill="#000"/>
<circle cx="261.25" cy="448.90" r="2.7" fill="#000"/>
<circle cx="272.83" cy="461.20" r="2.7" fill="#000"/>
<circle cx="284.42" cy="466.90" r="2.7" fill="#000"/>
<circle cx="296.00" cy="468.90" r="2.7" fill="#000"/>
<circle cx="307.58" cy="468.50" r="2.7" fill="#000"/>
<circle cx="319.17" cy="468.50" r="2.7" fill="#000"/>
<circle cx="330.75" cy="477.70" r="2.7" fill="#000"/>
<circle cx="342.33" cy="483.30" r="2.7" fill="#000"/>
<circle cx="353.92" cy="484.10" r="2.7" fill="#000"/>
<circle cx="365.50" cy="480.50" r="2.7" fill="#000"/>
<circle cx="377.08" cy="479.70" r="2.7" fill="#000"/>
<circle cx="388.67" cy="479.90" r="2.7" fill="#000"/>
<circle cx="400.25" cy="480.40" r="2.7" fill="#000"/>
<circle cx="411.83" cy="481.00" r="2.7" fill="#000"/>
<circle cx="423.42" cy="473.10" r="2.7" fill="#000"/>
<circle cx="435.00" cy="474.90" r="2.7" fill="#000"/>
<circle cx="446.58" cy="477.10" r="2.7" fill="#000"/>
<circle cx="458.17" cy="476.00" r="2.7" fill="#000"/>
<circle cx="469.75" cy="471.60" r="2.7" fill="#000"/>
<circle cx="481.33" cy="474.40" r="2.7" fill="#000"/>
<circle cx="492.92" cy="479.50" r="2.7" fill="#000"/>
<circle cx="504.50" cy="477.50" r="2.7" fill="#000"/>
<line x1="354.20" y1="284.50" x2="369.80" y2="284.50" stroke="#222" stroke-width="0.8"/>
<rect x="359.80" y="282.40" width="4.2" height="4.2" fill="#000"/>
<text transform="translate(371.20,288.50) scale(0.88,1)" font-size="12" text-anchor="start">TIC</text>
<line x1="354.20" y1="298.70" x2="369.80" y2="298.70" stroke="#222" stroke-width="0.8"/>
<circle cx="361.90" cy="298.70" r="2.6" fill="#000"/>
<text transform="translate(371.20,302.60) scale(0.88,1)" font-size="12" text-anchor="start">TOC</text>
<line x1="354.20" y1="313.60" x2="369.80" y2="313.60" stroke="#222" stroke-width="0.8"/>
<polygon points="358.80,315.50 365.00,315.50 361.90,310.50" fill="#000"/>
<text transform="translate(371.20,317.40) scale(0.88,1)" font-size="12" text-anchor="start">TC</text>
</svg>
</div>
</body></html>
